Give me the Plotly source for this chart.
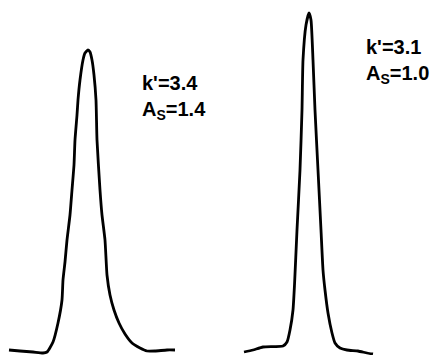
import plotly.graph_objects as go

# Peak A (left): retention axis (arbitrary units) and detector response
time_a = [9, 20, 33, 43, 47, 53, 58, 62, 63, 65, 67, 70, 72, 74, 75, 77, 78, 80, 83, 85, 88,
          90, 92, 94, 96, 97, 100, 102, 105, 107, 110, 114, 119, 125, 132, 140, 147, 155, 167, 175]
resp_a = [5, 4, 3, 2, 3, 13, 32, 55, 75, 93, 115, 140, 165, 190, 215, 240, 255, 275, 295, 302, 305,
          303, 295, 280, 255, 215, 165, 140, 115, 80, 60, 45, 32, 21, 12, 7, 4, 4, 5, 5]

# Peak B (right)
time_b = [244, 253, 263, 283, 287, 290, 293, 294.5, 297, 300, 302, 303, 306, 309,
          311, 313, 315, 318, 321, 323, 325, 328, 332, 335, 340, 347, 358, 367, 373]
resp_b = [3, 5, 8, 9, 13, 25, 45, 70, 125, 185, 245, 295, 330, 342,
          335, 295, 245, 185, 125, 85, 65, 42, 22, 12, 7, 5, 4, 2, 1]

labels_k = ["k'=3.4", "k'=3.1"]
labels_as = ["A<sub>S</sub>=1.4", "A<sub>S</sub>=1.0"]

fig = go.Figure()
for t, r in ((time_a, resp_a), (time_b, resp_b)):
    fig.add_trace(go.Scatter(x=t, y=r, mode="lines",
                             line=dict(color="black", width=2.8, shape="spline", smoothing=0.5),
                             showlegend=False, hoverinfo="skip"))

font = dict(family="Liberation Sans, Arial, sans-serif", size=20, color="black", weight="bold")
fig.add_trace(go.Scatter(x=[142, 366], y=[270, 306], mode="text", text=labels_k,
                         textposition="middle right", textfont=font,
                         showlegend=False, hoverinfo="skip"))
fig.add_trace(go.Scatter(x=[142, 366], y=[244, 280], mode="text", text=labels_as,
                         textposition="middle right", textfont=font,
                         showlegend=False, hoverinfo="skip"))

fig.update_layout(width=438, height=355, margin=dict(l=0, r=0, t=0, b=0),
                  paper_bgcolor="white", plot_bgcolor="white")
fig.update_xaxes(range=[0, 438], visible=False)
fig.update_yaxes(range=[0, 355], visible=False)
fig.write_html("out.html", config={"displayModeBar": False},
               post_script="document.body.style.margin='0';")
